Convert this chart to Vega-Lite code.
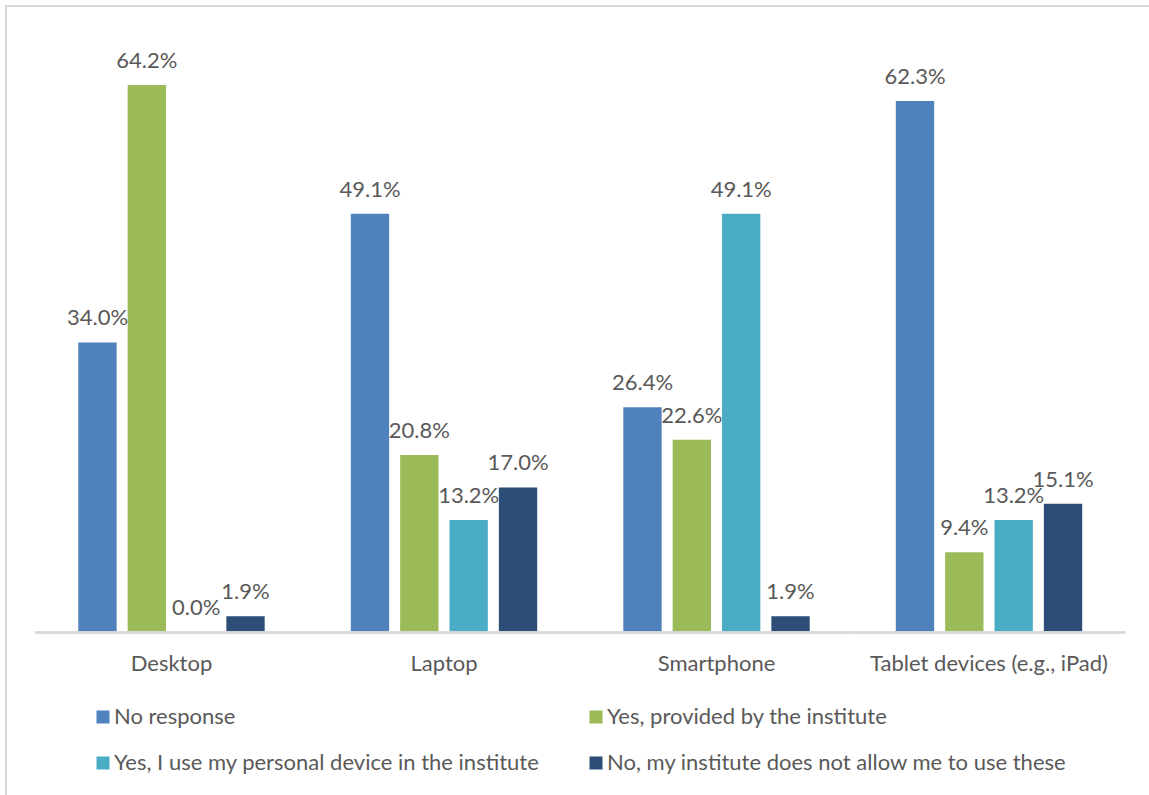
{
  "$schema": "https://vega.github.io/schema/vega-lite/v6.json",
  "width": 1148.5,
  "height": 794,
  "autosize": {"type": "none"},
  "padding": {"left": 6, "top": 6, "right": -6, "bottom": -5},
  "background": "white",
  "config": {
    "view": {"stroke": "#d9d9d9", "strokeWidth": 2},
    "font": "Lato"
  },
  "data": {"values": [
      {"device": "Desktop", "response": "No response", "value": 0.340},
      {"device": "Desktop", "response": "Yes, provided by the institute", "value": 0.642},
      {"device": "Desktop", "response": "Yes, I use my personal device in the institute", "value": 0.000},
      {"device": "Desktop", "response": "No, my institute does not allow me to use these", "value": 0.019},
      {"device": "Laptop", "response": "No response", "value": 0.491},
      {"device": "Laptop", "response": "Yes, provided by the institute", "value": 0.208},
      {"device": "Laptop", "response": "Yes, I use my personal device in the institute", "value": 0.132},
      {"device": "Laptop", "response": "No, my institute does not allow me to use these", "value": 0.170},
      {"device": "Smartphone", "response": "No response", "value": 0.264},
      {"device": "Smartphone", "response": "Yes, provided by the institute", "value": 0.226},
      {"device": "Smartphone", "response": "Yes, I use my personal device in the institute", "value": 0.491},
      {"device": "Smartphone", "response": "No, my institute does not allow me to use these", "value": 0.019},
      {"device": "Tablet devices (e.g., iPad)", "response": "No response", "value": 0.623},
      {"device": "Tablet devices (e.g., iPad)", "response": "Yes, provided by the institute", "value": 0.094},
      {"device": "Tablet devices (e.g., iPad)", "response": "Yes, I use my personal device in the institute", "value": 0.132},
      {"device": "Tablet devices (e.g., iPad)", "response": "No, my institute does not allow me to use these", "value": 0.151}
  ]},
  "encoding": {
    "x": {
      "field": "device", "type": "nominal",
      "scale": {"domain": ["Desktop", "Laptop", "Smartphone", "Tablet devices (e.g., iPad)"], "paddingInner": 0.316, "paddingOuter": 0.2653},
      "axis": {"title": null, "orient": "bottom", "offset": -167.5, "domain": false, "ticks": false, "labelAngle": 0, "labelPadding": 21, "labelFont": "Lato", "labelFontSize": 22, "labelColor": "#595959", "labelLimit": 0}
    },
    "y": {
      "field": "value", "type": "quantitative",
      "scale": {"domain": [-0.1964, 0.7345], "nice": false, "zero": false},
      "axis": null
    }
  },
  "layer": [
    {
      "mark": {"type": "bar"},
      "encoding": {
        "xOffset": {
          "field": "response", "type": "nominal",
          "scale": {"domain": ["No response", "Yes, provided by the institute", "Yes, I use my personal device in the institute", "No, my institute does not allow me to use these"], "paddingInner": 0.223, "paddingOuter": 0}
        },
        "color": {
          "field": "response", "type": "nominal",
          "scale": {"domain": ["No response", "Yes, provided by the institute", "Yes, I use my personal device in the institute", "No, my institute does not allow me to use these"], "range": ["#4F81BD", "#9BBB59", "#4BACC6", "#2C4D75"]},
          "legend": {"title": null, "orient": "none", "direction": "horizontal", "legendX": 86, "legendY": 700, "columns": 2, "columnPadding": 45, "rowPadding": 24, "padding": 0, "symbolType": "square", "symbolSize": 169, "symbolStrokeWidth": 0, "symbolOpacity": 1, "labelFont": "Lato", "labelFontSize": 22, "labelColor": "#595959", "labelOffset": 0, "labelLimit": 0}
        }
      }
    },
    {
      "mark": {"type": "tick", "orient": "horizontal", "size": 272.5, "thickness": 2, "color": "#d9d9d9", "opacity": 1},
      "encoding": {
        "y": {"datum": 0, "type": "quantitative"}
      }
    },
    {
      "mark": {"type": "text", "baseline": "alphabetic", "align": "center", "dy": -17, "font": "Lato", "fontSize": 22, "color": "#595959"},
      "encoding": {
        "xOffset": {"field": "response", "type": "nominal"},
        "text": {"field": "value", "type": "quantitative", "format": ".1%"}
      }
    }
  ]
}
